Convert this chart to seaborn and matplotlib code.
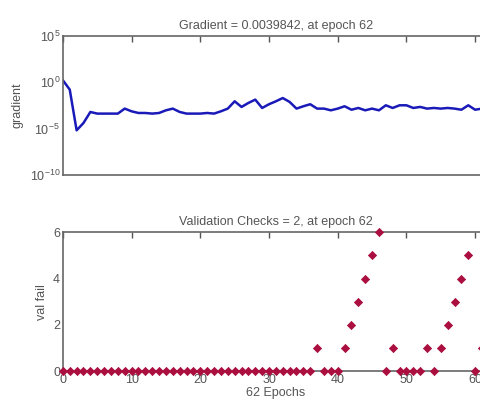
import numpy as np
import pandas as pd
import matplotlib
matplotlib.use("Agg")
import matplotlib.pyplot as plt
import matplotlib.ticker as mticker
import seaborn as sns

# 학습 기록
epochs = list(range(63))
gradient = [
    1.66, 0.162, 6.6e-6, 4.1e-5, 6.3e-4, 4.2e-4, 4.2e-4, 4.2e-4, 4.2e-4, 1.45e-3,
    7.4e-4, 4.9e-4, 4.9e-4, 4.2e-4, 4.9e-4, 9.5e-4, 1.45e-3, 6.3e-4, 4.2e-4, 4.2e-4,
    4.2e-4, 4.9e-4, 4.2e-4, 7.4e-4, 1.45e-3, 8.9e-3, 2.2e-3, 5.9e-3, 1.35e-2, 1.7e-3,
    4.3e-3, 8.9e-3, 2.0e-2, 7.6e-3, 1.45e-3, 2.6e-3, 4.3e-3, 1.45e-3, 1.45e-3, 9.5e-4,
    1.45e-3, 2.6e-3, 1.1e-3, 1.7e-3, 9.5e-4, 1.45e-3, 9.5e-4, 3.3e-3, 1.7e-3, 3.3e-3,
    3.3e-3, 1.7e-3, 2.2e-3, 1.45e-3, 1.7e-3, 1.45e-3, 1.7e-3, 1.45e-3, 1.1e-3, 3.3e-3,
    1.1e-3, 1.45e-3, 3.9842e-3,
]
val_fail = [0] * 37 + [1, 0, 0, 0, 1, 2, 3, 4, 5, 6, 0, 1, 0, 0, 0, 0, 1, 0,
                       1, 2, 3, 4, 5, 0, 1, 2]

grad_title = "Gradient = 0.0039842, at epoch 62"
val_title = "Validation Checks = 2, at epoch 62"
x_label = "62 Epochs"

df = pd.DataFrame({"epoch": epochs, "gradient": gradient, "val_fail": val_fail})

sns.set_theme(style="white")
plt.rcParams['font.family'] = ['Liberation Sans', 'DejaVu Sans']
text_color = '#555555'
plt.rcParams.update({
    'text.color': text_color,
    'axes.labelcolor': text_color,
    'xtick.color': text_color,
    'ytick.color': text_color,
    'axes.edgecolor': '#666666',
    'axes.linewidth': 1.2,
    'mathtext.fontset': 'custom',
    'mathtext.rm': 'Liberation Sans',
    'mathtext.it': 'Liberation Sans:italic',
    'mathtext.bf': 'Liberation Sans:bold',
})

fig = plt.figure(figsize=(4.8, 4.08), dpi=100)
ax1 = fig.add_axes([0.131, 0.571, 0.8875, 0.341])
ax2 = fig.add_axes([0.131, 0.09, 0.8875, 0.341])

# 그래디언트
sns.lineplot(data=df, x="epoch", y="gradient", ax=ax1, color='#1a1ab8', linewidth=1.8)
ax1.set_yscale('log')
ax1.set_ylim(1e-10, 1e5)
ax1.yaxis.set_major_locator(mticker.FixedLocator([1e-10, 1e-5, 1e0, 1e5]))
ax1.yaxis.set_minor_locator(mticker.NullLocator())
ax1.yaxis.set_major_formatter(mticker.FuncFormatter(
    lambda v, p: r'$\mathregular{10^{%d}}$' % round(np.log10(v))))
ax1.set_xlim(0, 62)
ax1.xaxis.set_major_locator(mticker.MultipleLocator(10))
ax1.set_xticklabels([])
ax1.set_xlabel('')
ax1.set_ylabel('gradient', fontsize=9, labelpad=4)
ax1.set_title(grad_title, fontsize=9, pad=5)

# 검증 실패 횟수
sns.scatterplot(data=df, x="epoch", y="val_fail", ax=ax2, marker='D', s=17,
                color='#ab0f40', edgecolor='#ab0f40', linewidth=0.6, clip_on=False,
                zorder=5)
ax2.set_xlim(0, 62)
ax2.set_ylim(0, 6)
ax2.xaxis.set_major_locator(mticker.MultipleLocator(10))
ax2.yaxis.set_major_locator(mticker.MultipleLocator(2))
ax2.set_ylabel('val fail', fontsize=9)
ax2.set_xlabel(x_label, fontsize=9, labelpad=1)
ax2.set_title(val_title, fontsize=9, pad=5)

for ax in (ax1, ax2):
    ax.tick_params(direction='in', length=4, width=1, top=True, right=True,
                   labelsize=9, pad=2)
    for s in ax.spines.values():
        s.set_visible(True)

plt.savefig('out.png', dpi=100)
